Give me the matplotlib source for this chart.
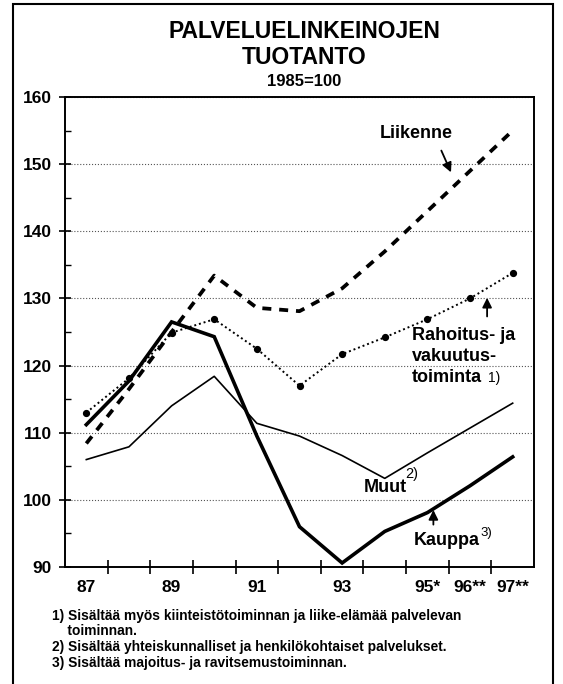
import matplotlib.pyplot as plt
import numpy as np
from matplotlib.patches import Rectangle

plt.rcParams['font.family'] = ['Liberation Sans', 'DejaVu Sans']

# vuodet 1987-1997, indeksi 1985=100
years = ['87', '', '89', '', '91', '', '93', '', '95*', '96**', '97**']
liikenne = [108.4, 116.5, 125.0, 133.4, 128.6, 128.1, 131.5, 137.0, 143.0, 149.0, 155.0]
rahoitus = [113.0, 118.1, 124.9, 126.9, 122.5, 117.0, 121.7, 124.2, 126.9, 130.0, 133.8]
kauppa = [111.2, 117.7, 126.5, 124.3, 109.5, 96.0, 90.6, 95.3, 98.1, 102.1, 106.4]
muut = [106.0, 107.9, 114.0, 118.4, 111.4, 109.5, 106.6, 103.2, 107.0, 110.7, 114.4]

footnotes = ['1) Sisältää myös kiinteistötoiminnan ja liike-elämää palvelevan',
             '    toiminnan.',
             '2) Sisältää yhteiskunnalliset ja henkilökohtaiset palvelukset.',
             '3) Sisältää majoitus- ja ravitsemustoiminnan.']

fig = plt.figure(figsize=(5.63, 6.84), dpi=100)
ax = fig.add_axes([65 / 563, 1 - 567 / 684, (534 - 65) / 563, (567 - 97) / 684])

x = np.arange(len(years))
ax.plot(x, liikenne, color='black', lw=2.7, dashes=(2.4, 2.1))
ax.plot(x, rahoitus, color='black', lw=1.4, ls=(0, (1, 1.5)), marker='o', ms=4.2)
ax.plot(x, kauppa, color='black', lw=2.6, solid_joinstyle='miter')
ax.plot(x, muut, color='black', lw=1.2)

ax.set_xlim(-0.5, 10.5)
ax.set_ylim(90, 160)
ax.set_xticks(x)
ax.set_xticklabels(years, fontsize=12.5, fontweight='bold')
ax.set_xticks(np.arange(0.5, 10, 1), minor=True)
ax.tick_params(axis='x', which='major', length=0, pad=9)
ax.tick_params(axis='x', which='minor', direction='inout', length=10, width=1.2)

ax.set_yticks(np.arange(90, 161, 10))
ax.set_yticks(np.arange(95, 160, 10), minor=True)
ax.tick_params(axis='y', which='major', direction='inout', length=9, width=1.2,
               labelsize=12.5, pad=5)
ax.tick_params(axis='y', which='minor', direction='in', length=4, width=1.0)
for lab in ax.get_yticklabels():
    lab.set_fontweight('bold')
ax.yaxis.grid(True, which='major', ls=':', color='#555555', lw=0.8)
for sp in ax.spines.values():
    sp.set_linewidth(1.4)

# otsikko
fig.text(0.54, 1 - 32 / 684, 'PALVELUELINKEINOJEN', ha='center', va='center',
         fontsize=16.5, fontweight='bold')
fig.text(0.54, 1 - 57 / 684, 'TUOTANTO', ha='center', va='center',
         fontsize=16.5, fontweight='bold')
fig.text(0.54, 1 - 82 / 684, '1985=100', ha='center', va='center',
         fontsize=12, fontweight='bold')

# sarjojen nimet
arrow = dict(arrowstyle='-|>', color='black', lw=1.3, mutation_scale=14)
ax.text(7.74, 154.6, 'Liikenne', ha='center', va='center', fontsize=13, fontweight='bold')
ax.annotate('', xy=(8.58, 148.4), xytext=(8.30, 152.4), arrowprops=arrow)

ax.text(7.64, 124.5, 'Rahoitus- ja', ha='left', va='center', fontsize=13, fontweight='bold')
ax.text(7.64, 121.4, 'vakuutus-', ha='left', va='center', fontsize=13, fontweight='bold')
t1 = ax.text(7.64, 118.2, 'toiminta', ha='left', va='center', fontsize=13, fontweight='bold')
ax.annotate('1)', xy=(1, 0.5), xycoords=t1, xytext=(4, 0), textcoords='offset points',
            ha='left', va='center', fontsize=10)
ax.annotate('', xy=(9.40, 130.5), xytext=(9.40, 126.9), arrowprops=arrow)

t2 = ax.text(6.5, 101.8, 'Muut', ha='left', va='center', fontsize=13, fontweight='bold')
ax.annotate('2)', xy=(1, 1), xycoords=t2, xytext=(-1, 4), textcoords='offset points',
            ha='left', va='center', fontsize=10.5)

t3 = ax.text(7.67, 94.0, 'Kauppa', ha='left', va='center', fontsize=13, fontweight='bold')
ax.annotate('3)', xy=(1, 1), xycoords=t3, xytext=(1, -1), textcoords='offset points',
            ha='left', va='center', fontsize=9.5)
ax.annotate('', xy=(8.14, 98.9), xytext=(8.14, 95.9), arrowprops=arrow)

# alaviitteet
fy = [616, 631, 647, 663]
for t, y in zip(footnotes, fy):
    fig.text(52 / 563, 1 - y / 684, t, ha='left', va='center', fontsize=9.9,
             fontweight='bold')

fig.add_artist(Rectangle((13 / 563, -0.01), 540 / 563, 1.01 - 4 / 684,
                         transform=fig.transFigure, fill=False, lw=1.5, color='black'))

fig.savefig('out.png', dpi=100)
